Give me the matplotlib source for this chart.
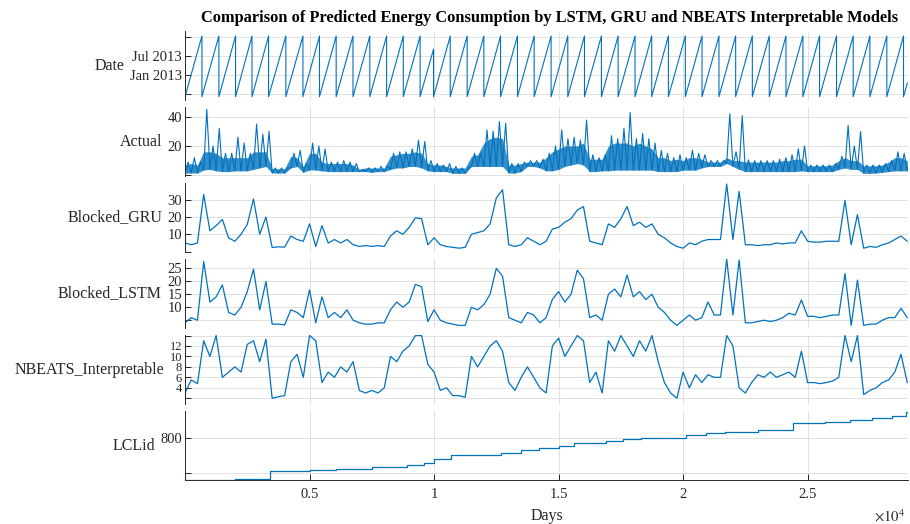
import numpy as np
import matplotlib
matplotlib.use('Agg')
import matplotlib.pyplot as plt
import matplotlib.dates as mdates
from matplotlib.ticker import FixedLocator, FuncFormatter
import datetime as dt

plt.rcParams['font.family'] = ['Liberation Serif', 'DejaVu Serif']
plt.rcParams['mathtext.fontset'] = 'stix'

title = 'Comparison of Predicted Energy Consumption by LSTM, GRU and NBEATS Interpretable Models'
panel_names = ['Date', 'Actual', 'Blocked_GRU', 'Blocked_LSTM', 'NBEATS_Interpretable', 'LCLid']
x_label = 'Days'

sample_step = 250  # rows between read samples

# Actual is a dense noisy band: read its spike tops, the top of the dense band and its bottom
actual_upper = [9, 12, 9, 45, 20, 32, 15, 15, 26, 22, 15, 35, 28, 30, 5, 5, 5, 15, 17, 8,
                22, 20, 18, 9, 9, 10, 9, 8, 4, 5, 5, 6, 6, 15, 16, 16, 18, 24, 23, 10,
                8, 7, 8, 6, 5, 5, 15, 15, 31, 30, 36.6, 35.5, 8, 8, 9, 10, 10, 11, 15, 20,
                31, 25, 26, 24, 37.7, 14, 12, 14, 27, 25, 32, 42.8, 25, 28.6, 25, 22, 17, 15, 12, 14,
                12, 17, 15, 14, 10, 10, 10, 42, 16, 40.7, 10.5, 10, 10, 10, 10, 11, 12, 14, 18, 20,
                7, 7, 7, 7, 8, 13, 34, 20, 29.8, 7, 7, 7, 8, 10, 16, 15, 12]
actual_band_top = [7, 8, 7, 16, 16, 15, 12, 12, 12, 12, 12, 16, 16, 16, 4.5, 4.5, 4.5, 13, 12, 6,
                   15, 15, 9, 8, 8, 8, 8, 7, 4, 5, 5, 5, 5, 13, 14, 15, 15, 16, 15, 8,
                   7, 7, 6, 5, 5, 5, 13, 14, 22, 25, 26, 25, 7, 7, 8, 9, 9, 9, 12, 16,
                   18, 20, 20, 20, 22, 11, 11, 11, 20, 22, 22, 22, 20, 22, 20, 18, 12, 12, 10, 11,
                   10, 12, 12, 11, 9, 9, 9, 12, 10, 10, 9, 9, 9, 9, 9, 9, 10, 10, 11, 11,
                   6.5, 6.5, 6.5, 6.5, 7, 10, 12, 10, 10, 6.5, 6.5, 6.5, 7, 9, 12, 12, 10]
actual_lower = [1.5, 1.5, 1.5, 3.6, 4, 3, 2.5, 2.5, 3, 3, 3, 4, 5, 6, 1.5, 1.5, 1.5, 5, 6, 2,
                3.6, 3.6, 3, 2.5, 2.5, 2.5, 2.5, 2.5, 2.5, 2.5, 2, 2.5, 2.5, 4, 5, 5, 6, 6, 5, 3,
                2.5, 2.5, 2.5, 1.3, 1.3, 1.3, 6, 6, 6, 6, 6, 6, 1.5, 1.5, 2.5, 6, 6, 5, 3, 3,
                4, 6, 7, 8, 7, 2.5, 2.5, 3, 3, 3.5, 3.5, 3.5, 3.5, 3.5, 3.5, 3.5, 2.5, 2.5, 2.5, 2.5,
                3.5, 3.5, 3.5, 5, 6, 6, 6, 8, 6, 4, 2.5, 2.5, 2.5, 2.5, 2.5, 2.5, 2.5, 2.5, 2.5, 3,
                2.5, 2.5, 2.5, 2.5, 2.5, 4, 5, 4, 4, 1.3, 1.3, 1.5, 2, 2.5, 3, 3, 3]

blocked_gru = [5, 4, 5, 33, 12, 15, 18.6, 8, 6, 10, 15.7, 30.4, 10, 20, 2.4, 2.8, 2.6, 9, 7, 6,
               16, 3, 15, 5, 7, 5, 7, 4, 3, 3.5, 3, 3.5, 3, 9, 12, 10, 14, 19.5, 19, 4,
               8, 4, 3, 2.5, 2, 2.5, 10, 11, 12, 16, 31, 35.7, 4, 3, 4, 8, 6, 4, 6, 13,
               14, 17, 19, 24, 26, 6, 5, 4, 16, 14, 19, 26, 15, 17, 14, 16, 10, 8, 5, 3,
               2, 5, 4, 6, 7, 7, 7, 39, 7, 34.8, 4, 4, 3.5, 4, 4, 5, 4.5, 5, 5, 12,
               6, 5.5, 5.5, 6, 6, 6, 29.6, 4, 21.4, 2, 3, 2.5, 4, 5, 7, 9, 6]

blocked_lstm = [4, 6, 5, 27.6, 12, 14, 18.6, 8, 7, 10, 16, 24.7, 9, 19.9, 3.5, 3.5, 3.2, 9, 8, 6,
                16.7, 4, 14, 6, 8, 6, 9, 5, 4, 3.5, 3.5, 4, 4, 9, 12, 10, 12, 18.8, 17.9, 4.5,
                9, 5, 4, 3.5, 3, 3, 10, 9, 11, 15, 25, 22, 6, 5, 4, 8, 7, 4, 6, 13,
                16, 12, 15, 24.3, 21, 6, 7, 5, 15, 17, 14, 22.4, 14, 16, 13, 15, 10, 8, 5, 3,
                5, 7, 5, 6, 12, 7, 7, 28.6, 7, 28.2, 4, 4, 4.5, 5, 4.5, 5, 6, 7.7, 7, 12.8,
                6.5, 6.5, 6, 6.5, 7, 7, 23, 3, 20.5, 3, 3.5, 3.5, 5, 6, 6, 9.6, 6]

nbeats_interpretable = [3, 5.5, 4.8, 13, 10, 14, 6, 7, 8, 7, 12.3, 13, 9, 13.3, 2, 2.3, 2.5, 9, 10.4, 6,
                        14, 13, 5, 7, 6, 8, 7, 9, 3.5, 3, 3.5, 3, 4, 10, 9, 11, 12, 14, 14, 8.5,
                        7, 3.5, 4, 2.5, 2.5, 2.2, 10, 8, 10, 12, 13, 11, 5, 3.5, 6, 8, 6, 4, 3, 12,
                        13.5, 10, 12, 14, 13, 5, 7, 3, 13, 11, 14, 12, 10, 13, 11, 14, 9, 5, 3, 2,
                        7, 4, 6.5, 5, 6.5, 6, 6, 14, 12, 4, 3, 5, 6.5, 6, 7, 6, 6.5, 7, 6, 11,
                        5, 5, 4.8, 5, 5.3, 6, 14, 9, 14, 2.7, 3.5, 4, 5, 5.5, 7, 10.4, 5]

# Date column: one ramp per household (start date -> last date)
household_end_rows = [680, 1360, 2030, 2690, 3355, 4050, 4735, 5400, 6070, 6745, 7420, 8095, 8765,
                      9440, 9980, 10650, 11330, 12000, 12670, 13350, 14020, 14700, 15370, 16040,
                      16720, 17390, 18070, 18740, 19410, 20090, 20760, 21440, 22110, 22780, 23460,
                      24130, 24810, 25480, 26160, 26830, 27500, 28180, 28850, 29000]
household_start_date = '2012-06-08'
household_end_dates = ['2014-01-14'] * 14 + ['2013-09-10'] + ['2014-01-14'] * 28 + ['2012-10-16']

# LCLid column: step changes
lclid_change_rows = [0, 2000, 3420, 5000, 6070, 7500, 8900, 9600, 10000, 10700, 12700, 13500, 14200,
                     15000, 15600, 16900, 17600, 18300, 20100, 20900, 21700, 23000, 24400, 25700,
                     26700, 27600, 28400, 28950, 29000]
lclid_values = [559, 565, 610, 618, 623, 635, 645, 655, 678, 701, 713, 732, 742,
                755, 774, 786, 796, 803, 819, 829, 838, 848, 887, 896,
                906, 916, 929, 954, 954]

x_ticks = [5000, 10000, 15000, 20000, 25000]

line_color = '#0072BD'
text_color = '#262626'
grid_color = '#e1e1e1'

W, H = 910, 524
fig = plt.figure(figsize=(W / 100, H / 100), dpi=100)
left_px, right_px = 185, 908
tops = [31, 107, 183, 259, 335, 411]
ph = 69
axes = []
for t in tops:
    ax = fig.add_axes([left_px / W, 1 - (t + ph) / H, (right_px - left_px) / W, ph / H])
    axes.append(ax)

rows = np.arange(len(blocked_gru)) * sample_step

# Date panel
start_num = mdates.date2num(dt.datetime.fromisoformat(household_start_date))
dx, dy = [], []
prev = 0
for end_row, end_date in zip(household_end_rows, household_end_dates):
    dx += [prev, end_row]
    dy += [start_num, mdates.date2num(dt.datetime.fromisoformat(end_date))]
    prev = end_row
axes[0].plot(dx, dy, color=line_color, lw=0.8)
date_ticks = [mdates.date2num(dt.datetime(2012, 7, 1)), mdates.date2num(dt.datetime(2013, 1, 1)),
              mdates.date2num(dt.datetime(2013, 7, 1)), mdates.date2num(dt.datetime(2014, 1, 1))]
axes[0].set_yticks(date_ticks)
axes[0].set_yticklabels(['', 'Jan 2013', 'Jul 2013', ''])
axes[0].set_ylim(mdates.date2num(dt.datetime(2012, 5, 7)), mdates.date2num(dt.datetime(2014, 3, 3)))

# Actual: dense band plus spikes between the read lower edge and spike tops
axes[1].fill_between(rows, actual_lower, actual_band_top, color=line_color, alpha=0.8, lw=0)
act_x, act_y = [], []
for r, lo, hi in zip(rows, actual_lower, actual_upper):
    act_x += [r, r + sample_step / 2]
    act_y += [lo, hi]
axes[1].plot(act_x, act_y, color=line_color, lw=0.8)

series = [blocked_gru, blocked_lstm, nbeats_interpretable]
for ax, s in zip(axes[2:5], series):
    ax.plot(rows, s, color=line_color, lw=0.9)

ylims = [(-0.5, 46.6), (-0.2, 39.6), (2.0, 28.6), (0.9, 14.1)]
yticks = [[0, 20, 40], [0, 10, 20, 30], [5, 10, 15, 20, 25], [2, 4, 6, 8, 10, 12, 14]]
ytlabels = [['', '20', '40'], ['', '10', '20', '30'], ['', '10', '15', '20', '25'],
            ['', '4', '6', '8', '10', '12', '']]
for ax, yl, yt, ytl in zip(axes[1:5], ylims, yticks, ytlabels):
    ax.set_ylim(*yl)
    ax.set_yticks(yt)
    ax.set_yticklabels(ytl)

axes[5].plot(lclid_change_rows, lclid_values, color=line_color, lw=0.9, drawstyle='steps-post')
axes[5].set_ylim(557, 959)
axes[5].set_yticks([600, 800])
axes[5].set_yticklabels(['', '800'])

for i, (ax, name) in enumerate(zip(axes, panel_names)):
    ax.set_xlim(0, 29030)
    ax.xaxis.set_major_locator(FixedLocator(x_ticks))
    ax.grid(True, color=grid_color, lw=0.7)
    ax.set_axisbelow(True)
    for sp in ['top', 'right']:
        ax.spines[sp].set_visible(False)
    ax.spines['left'].set_color(text_color)
    ax.spines['left'].set_linewidth(0.7)
    ax.tick_params(axis='y', direction='in', length=4, width=0.7, color=text_color,
                   labelsize=(9 if i == 4 else 10.5), labelcolor=text_color, pad=2)
    if i < 5:
        ax.spines['bottom'].set_visible(False)
        ax.tick_params(axis='x', length=0, labelbottom=False)
    else:
        ax.spines['bottom'].set_color(text_color)
        ax.spines['bottom'].set_linewidth(0.7)
        ax.tick_params(axis='x', direction='in', length=4, width=0.7, color=text_color,
                       labelsize=10.5, labelcolor=text_color, pad=6)
        ax.xaxis.set_major_formatter(FuncFormatter(lambda v, p: '%g' % (v / 1e4)))
        ax.set_xlabel(x_label, fontsize=11.5, color=text_color, labelpad=5)
    ax.set_ylabel(name, rotation=0, ha='right', va='center', fontsize=11.5,
                  color=text_color, labelpad=4)

fig.text(550 / W, 1 - 18 / H, title, ha='center', va='center', fontsize=11.8,
         fontweight='bold', color='black')
fig.text(905 / W, 1 - 516 / H, r'$\times10^{4}$', ha='right', va='center', fontsize=10.5,
         color=text_color)

fig.savefig('out.png', dpi=100)
